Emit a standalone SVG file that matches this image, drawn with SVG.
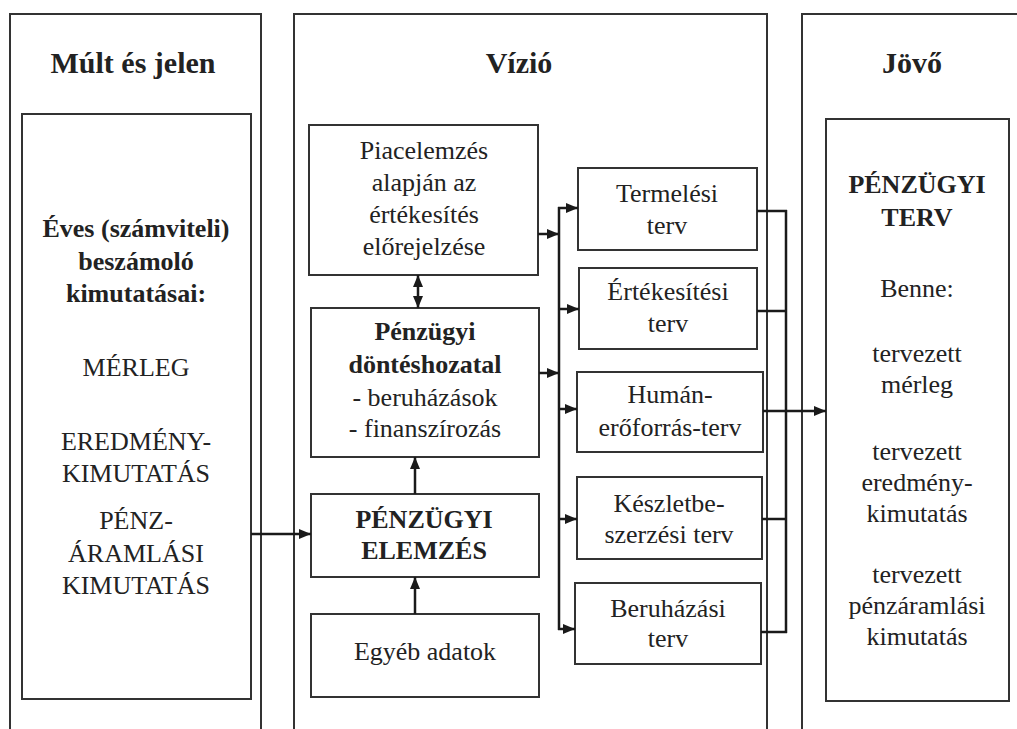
<svg xmlns="http://www.w3.org/2000/svg" width="1017" height="729" viewBox="0 0 1017 729">
<style>
.panel{fill:none;stroke:#333;stroke-width:2}
.box{fill:#fff;stroke:#333;stroke-width:2}
.t{font-family:"Liberation Serif","Times New Roman",serif;font-size:26px;fill:#222;text-anchor:middle}
.b{font-weight:bold}
.h{font-family:"Liberation Serif","Times New Roman",serif;font-size:30px;font-weight:bold;fill:#222;text-anchor:middle}
.c{fill:none;stroke:#1a1a1a;stroke-width:2.5}
</style>
<defs>
<marker id="ah" viewBox="0 0 12 10" refX="12" refY="5" markerWidth="12" markerHeight="10" markerUnits="userSpaceOnUse" orient="auto-start-reverse">
<path d="M0,0 L12,5 L0,10 z" fill="#1a1a1a"/>
</marker>
</defs>
<rect width="1017" height="729" fill="#fff"/>

<g id="panel-past">
<rect class="panel" x="10" y="14" width="251" height="740"/>
<text class="h" x="133" y="73">Múlt és jelen</text>
</g>
<g id="panel-vision">
<rect class="panel" x="294" y="14" width="473" height="740"/>
<text class="h" x="519" y="73">Vízió</text>
</g>
<g id="panel-future">
<rect class="panel" x="802" y="14" width="240" height="740"/>
<text class="h" x="912" y="73">Jövő</text>
</g>

<g id="node-beszamolo">
<rect class="box" x="22" y="114" width="229" height="585"/>
<text class="t b" x="136" y="237">Éves (számviteli)</text>
<text class="t b" x="136" y="270">beszámoló</text>
<text class="t b" x="136" y="302">kimutatásai:</text>
<text class="t" x="136" y="376">MÉRLEG</text>
<text class="t" x="136" y="450">EREDMÉNY-</text>
<text class="t" x="136" y="482">KIMUTATÁS</text>
<text class="t" x="136" y="529">PÉNZ-</text>
<text class="t" x="136" y="562">ÁRAMLÁSI</text>
<text class="t" x="136" y="594">KIMUTATÁS</text>
</g>

<g id="node-piacelemzes">
<rect class="box" x="309" y="125" width="229" height="150"/>
<text class="t" x="424" y="159">Piacelemzés</text>
<text class="t" x="424" y="191">alapján az</text>
<text class="t" x="424" y="223">értékesítés</text>
<text class="t" x="424" y="255">előrejelzése</text>
</g>
<g id="node-dontes">
<rect class="box" x="311" y="308" width="228" height="149"/>
<text class="t b" x="425" y="340">Pénzügyi</text>
<text class="t b" x="425" y="373">döntéshozatal</text>
<text class="t" x="425" y="406">- beruházások</text>
<text class="t" x="425" y="437">- finanszírozás</text>
</g>
<g id="node-elemzes">
<rect class="box" x="311" y="494" width="228" height="83"/>
<text class="t b" x="424" y="528">PÉNZÜGYI</text>
<text class="t b" x="424" y="559">ELEMZÉS</text>
</g>
<g id="node-egyeb">
<rect class="box" x="311" y="614" width="228" height="83"/>
<text class="t" x="425" y="660">Egyéb adatok</text>
</g>

<g id="node-termelesi">
<rect class="box" x="578" y="168" width="179" height="82"/>
<text class="t" x="667" y="202">Termelési</text>
<text class="t" x="667" y="234">terv</text>
</g>
<g id="node-ertekesitesi">
<rect class="box" x="579" y="268" width="178" height="81"/>
<text class="t" x="668" y="300">Értékesítési</text>
<text class="t" x="668" y="332">terv</text>
</g>
<g id="node-human">
<rect class="box" x="577" y="372" width="186" height="80"/>
<text class="t" x="670" y="403">Humán-</text>
<text class="t" x="670" y="436">erőforrás-terv</text>
</g>
<g id="node-keszlet">
<rect class="box" x="577" y="477" width="185" height="82"/>
<text class="t" x="669" y="512">Készletbe-</text>
<text class="t" x="669" y="543">szerzési terv</text>
</g>
<g id="node-beruhazasi">
<rect class="box" x="575" y="583" width="186" height="81"/>
<text class="t" x="668" y="617">Beruházási</text>
<text class="t" x="668" y="647">terv</text>
</g>

<g id="node-penzugyi-terv">
<rect class="box" x="826" y="119" width="183" height="582"/>
<text class="t b" x="917" y="193">PÉNZÜGYI</text>
<text class="t b" x="917" y="226">TERV</text>
<text class="t" x="917" y="297">Benne:</text>
<text class="t" x="917" y="362">tervezett</text>
<text class="t" x="917" y="393">mérleg</text>
<text class="t" x="917" y="460">tervezett</text>
<text class="t" x="917" y="491">eredmény-</text>
<text class="t" x="917" y="522">kimutatás</text>
<text class="t" x="917" y="583">tervezett</text>
<text class="t" x="917" y="614">pénzáramlási</text>
<text class="t" x="917" y="645">kimutatás</text>
</g>

<g id="connectors">
<line class="c" x1="251" y1="534" x2="311" y2="534" marker-end="url(#ah)"/>
<line class="c" x1="415" y1="614" x2="415" y2="577" marker-end="url(#ah)"/>
<line class="c" x1="415" y1="494" x2="415" y2="457" marker-end="url(#ah)"/>
<line class="c" x1="418" y1="275" x2="418" y2="308" marker-start="url(#ah)" marker-end="url(#ah)"/>
<line class="c" x1="538" y1="234" x2="559" y2="234" marker-end="url(#ah)"/>
<line class="c" x1="539" y1="373" x2="559" y2="373" marker-end="url(#ah)"/>
<line class="c" x1="559" y1="207" x2="559" y2="630"/>
<line class="c" x1="558" y1="208" x2="578" y2="208" marker-end="url(#ah)"/>
<line class="c" x1="559" y1="309" x2="579" y2="309" marker-end="url(#ah)"/>
<line class="c" x1="559" y1="409" x2="577" y2="409" marker-end="url(#ah)"/>
<line class="c" x1="559" y1="519" x2="577" y2="519" marker-end="url(#ah)"/>
<line class="c" x1="558" y1="629" x2="575" y2="629" marker-end="url(#ah)"/>
<line class="c" x1="757" y1="211" x2="787" y2="211"/>
<line class="c" x1="757" y1="311" x2="786" y2="311"/>
<line class="c" x1="762" y1="519" x2="786" y2="519"/>
<line class="c" x1="761" y1="632" x2="787" y2="632"/>
<line class="c" x1="786" y1="210" x2="786" y2="633"/>
<line class="c" x1="763" y1="411" x2="826" y2="411" marker-end="url(#ah)"/>
</g>
</svg>
